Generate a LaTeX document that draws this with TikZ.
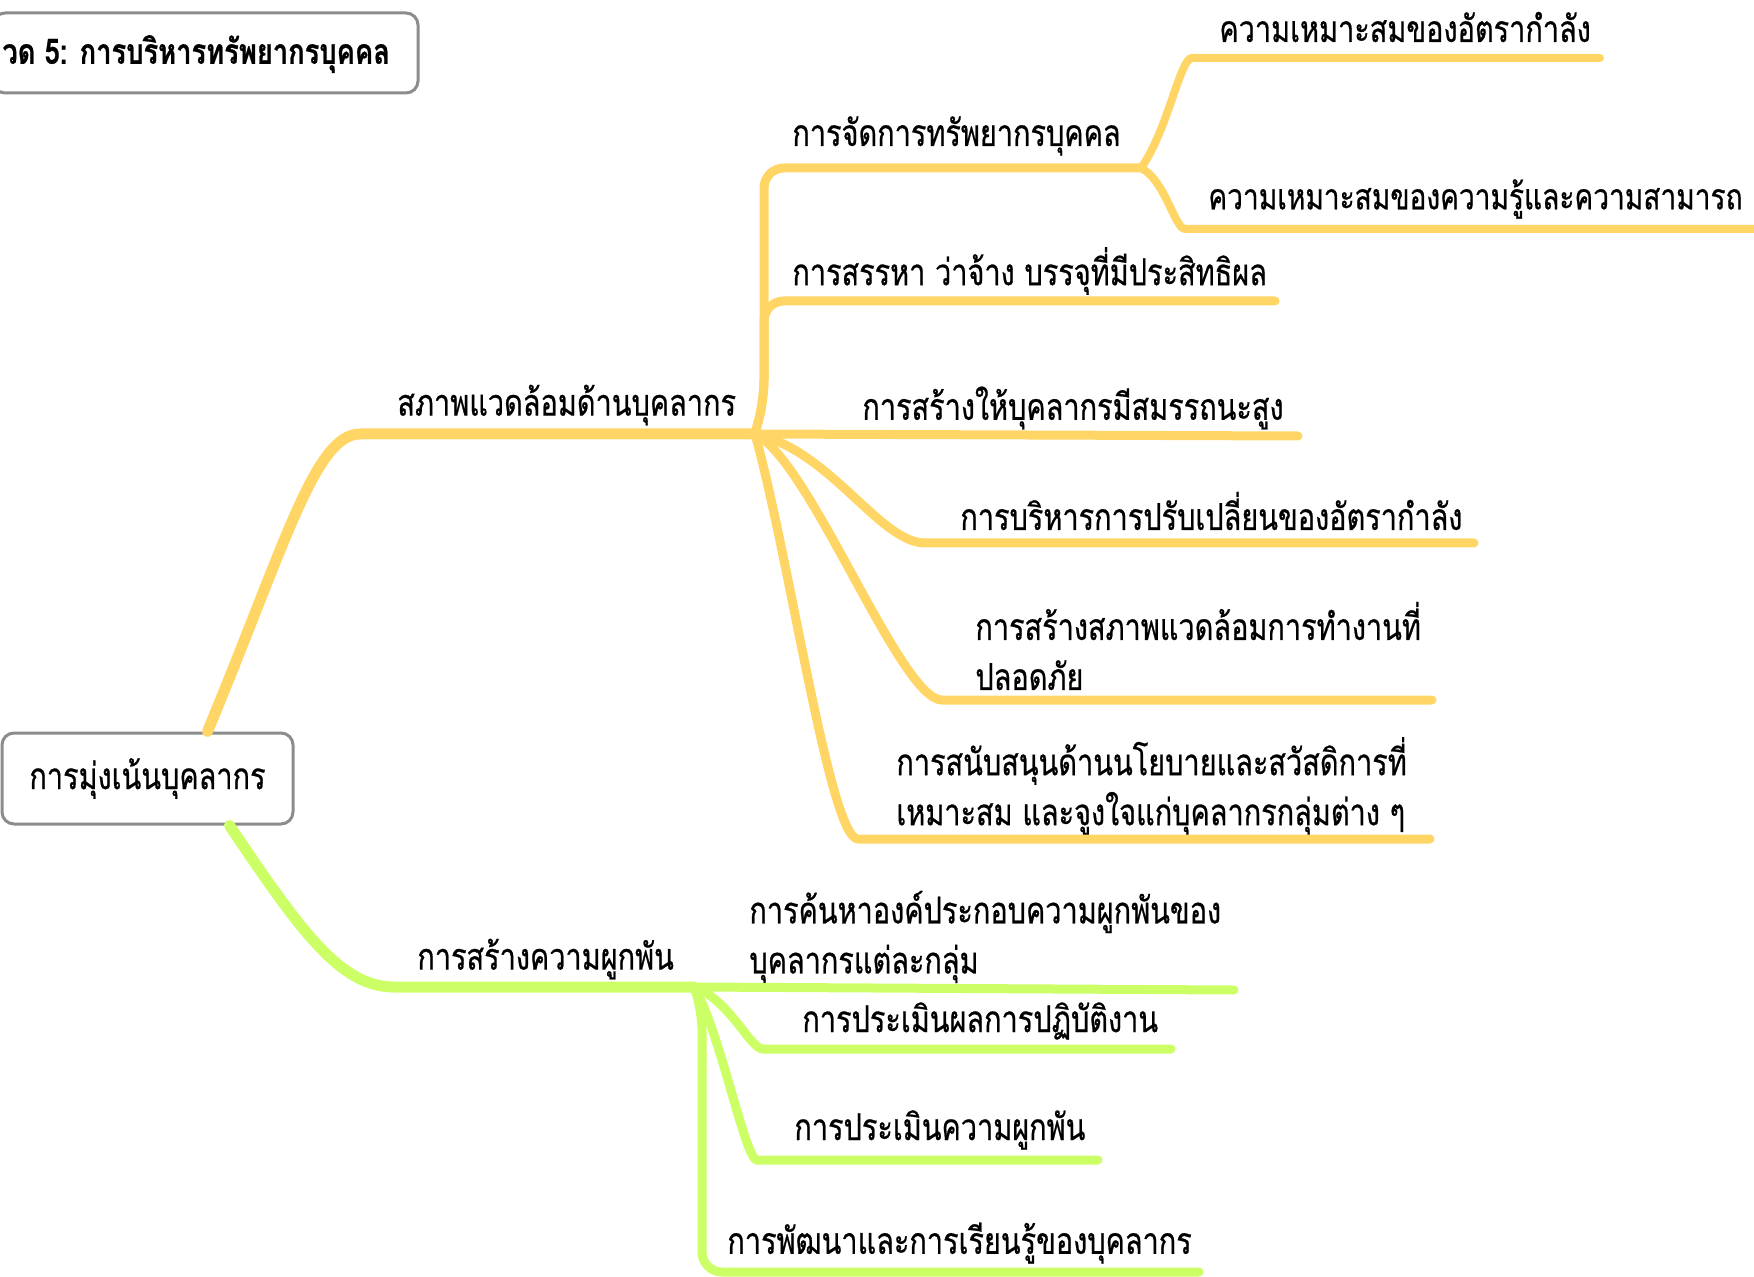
\documentclass[tikz,border=0pt]{standalone}
\usepackage{fontspec}
\newfontfamily\thai[Script=Thai,FakeStretch=0.78,FakeBold=0.6]{Loma}
\definecolor{orb}{RGB}{255,214,102}
\definecolor{grb}{RGB}{204,255,102}
\definecolor{boxgray}{RGB}{140,140,140}
\begin{document}
\begin{tikzpicture}[x=0.5pt,y=-0.5pt,
  lbl/.style={anchor=west,inner sep=0pt,align=left,font=\thai\fontsize{18.5}{25}\selectfont},
  ttl/.style={anchor=west,inner sep=0pt,font=\thai\bfseries\fontsize{17.5}{20}\selectfont},
  mbox/.style={draw=boxgray,line width=1.5pt,rounded corners=6pt,fill=white,inner sep=0pt},
  ob/.style={draw=orb,line width=4.5pt,line cap=round,rounded corners=10pt},
  gb/.style={draw=grb,line width=4.5pt,line cap=round,rounded corners=10pt},
  obm/.style={ob,line width=5.5pt},
  gbm/.style={gb,line width=5.5pt}]
\useasboundingbox (0,0) rectangle (1754,1277);

% boxes
\node[mbox,minimum width=212.5pt,minimum height=40pt] (title) at (205.5,53) {};
\node[ttl] (titletxt) at (2,54) {วด 5: การบริหารทรัพยากรบุคคล};
\node[mbox,minimum width=145.5pt,minimum height=45.5pt,font=\thai\fontsize{18.5}{22}\selectfont] (root) at (147.5,778.5) {การมุ่งเน้นบุคลากร};

% junction coordinates
\coordinate (oh) at (380,434);
\coordinate (oj) at (755,434);
\coordinate (oj2) at (1141,168);
\coordinate (gh) at (414,987);
\coordinate (gj) at (694,987);

% orange main
\draw[obm] ([xshift=30pt]root.north) .. controls (285,545) and (315,434) .. (oh) -- (oj);
\node[lbl] (env) at (397,405) {สภาพแวดล้อมด้านบุคลากร};

% orange children
\node[lbl] (hrm) at (792,136) {การจัดการทรัพยากรบุคคล};
\draw[ob] (oj) -- (764,400) -- (764,168) -- (oj2);
\node[lbl] (s1) at (1219,27) {ความเหมาะสมของอัตรากำลัง};
\coordinate (s1e) at (1600,58);
\draw[ob,line width=4pt] (oj2) .. controls (1168,130) and (1180,58) .. (1212,58) -- (s1e);
\node[lbl,font=\thai\fontsize{18}{25}\selectfont] (s2) at (1208,199) {ความเหมาะสมของความรู้และความสามารถ};
\coordinate (s2e) at (1754,229);
\draw[ob,line width=4pt] (oj2) .. controls (1165,180) and (1175,229) .. (1205,229) -- (s2e);

\node[lbl] (c2) at (792,271) {การสรรหา ว่าจ้าง บรรจุที่มีประสิทธิผล};
\coordinate (c2e) at (1275,301);
\draw[ob] (oj) -- (764,400) -- (764,301) -- (c2e);

\node[lbl] (c3) at (862,408) {การสร้างให้บุคลากรมีสมรรถนะสูง};
\coordinate (c3e) at (1298,436);
\draw[ob] (oj) -- (c3e);

\node[lbl] (c4) at (960,511) {การบริหารการปรับเปลี่ยนของอัตรากำลัง};
\coordinate (c4e) at (1474,543);
\draw[ob] (oj) .. controls (830,450) and (880,543) .. (945,543) -- (c4e);

\node[lbl] (c5) at (975,646) {การสร้างสภาพแวดล้อมการทำงานที่\\ปลอดภัย};
\coordinate (c5e) at (1432,700);
\draw[ob] (oj) .. controls (810,460) and (900,700) .. (962,700) -- (c5e);

\node[lbl] (c6) at (896,786) {การสนับสนุนด้านนโยบายและสวัสดิการที่\\เหมาะสม และจูงใจแก่บุคลากรกลุ่มต่าง ๆ};
\coordinate (c6e) at (1430,839);
\draw[ob] (oj) .. controls (790,560) and (830,839) .. (878,839) -- (c6e);

% green main
\draw[gbm] ([xshift=41pt]root.south) .. controls (300,930) and (340,987) .. (gh) -- (gj);
\node[lbl] (eng) at (417,959) {การสร้างความผูกพัน};

\node[lbl] (g1) at (749,937) {การค้นหาองค์ประกอบความผูกพันของ\\บุคลากรแต่ละกลุ่ม};
\coordinate (g1e) at (1234,990);
\draw[gb] (gj) -- (g1e);

\node[lbl] (g2) at (802,1021) {การประเมินผลการปฏิบัติงาน};
\coordinate (g2e) at (1171,1049);
\draw[gb] (gj) .. controls (730,1000) and (750,1049) .. (783,1049) -- (g2e);

\node[lbl] (g3) at (794,1130) {การประเมินความผูกพัน};
\coordinate (g3e) at (1098,1160);
\draw[gb] (gj) .. controls (720,1030) and (745,1160) .. (777,1160) -- (g3e);

\node[lbl] (g4) at (727,1243) {การพัฒนาและการเรียนรู้ของบุคลากร};
\coordinate (g4e) at (1199,1272);
\draw[gb] (gj) -- (702,1010) -- (702,1272) -- (g4e);
\end{tikzpicture}
\end{document}
